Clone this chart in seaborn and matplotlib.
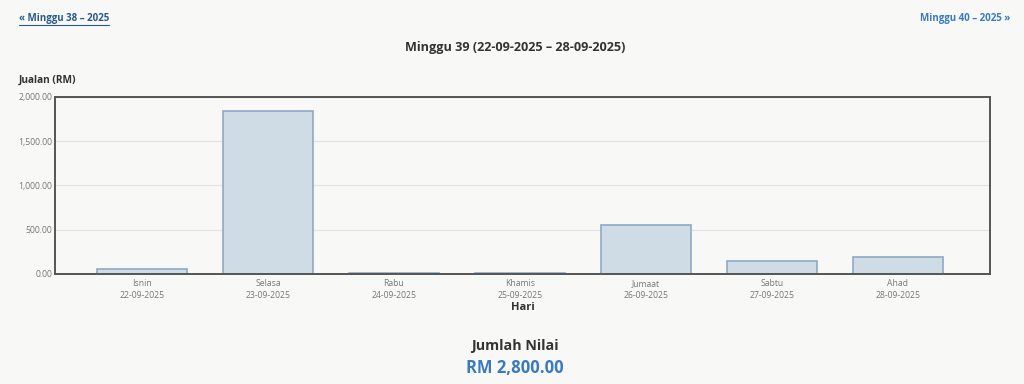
import matplotlib
matplotlib.use("Agg")
import matplotlib.pyplot as plt
from matplotlib.lines import Line2D
import seaborn as sns

hari = ["Isnin", "Selasa", "Rabu", "Khamis", "Jumaat", "Sabtu", "Ahad"]
tarikh = ["22-09-2025", "23-09-2025", "24-09-2025", "25-09-2025",
          "26-09-2025", "27-09-2025", "28-09-2025"]
jualan = [52, 1840, 10, 8, 550, 150, 190]
yticks = [0, 500, 1000, 1500, 2000]

sns.set_theme(style="white")
plt.rcParams['font.family'] = ['Open Sans', 'DejaVu Sans']

bg = "#f8f8f7"
fig = plt.figure(figsize=(10.24, 3.84), dpi=100, facecolor=bg)
ax = fig.add_axes([0.0537, 0.2865, 0.913, 0.4609])
ax.set_facecolor(bg)

sns.barplot(x=hari, y=jualan, ax=ax, color="#cfdbe5", edgecolor="#8eaac4",
            linewidth=1.2, width=0.71, saturation=1)

ax.set_ylim(0, 2000)
ax.set_xlim(-0.69, 6.73)
ax.set_yticks(yticks)
ax.set_yticklabels([f"{v:,.2f}" for v in yticks])
ax.yaxis.grid(True, color="#e2e2e2", linewidth=0.8)
ax.set_axisbelow(True)
ax.tick_params(axis="both", labelsize=6.2, colors="#777777", length=0, pad=2)

# label hari + tarikh, dua baris (ikut baseline supaya "Jumaat" sebaris)
ax.set_xticklabels([])
trans = ax.get_xaxis_transform()
for i, (h, t) in enumerate(zip(hari, tarikh)):
    ax.text(i, -0.068, h, transform=trans, ha="center", va="baseline", fontsize=6.2, color="#777777")
    ax.text(i, -0.136, t, transform=trans, ha="center", va="baseline", fontsize=6.2, color="#777777")

for s in ax.spines.values():
    s.set_color("#555555")
    s.set_linewidth(1.4)

ax.set_xlabel("Hari", fontsize=8, fontweight="bold", color="#333333", labelpad=18)
ax.set_ylabel("")

fig.text(0.0186, 0.79, "Jualan (RM)", fontsize=7.3, fontweight="bold", color="#333333",
         ha="left", va="center")
fig.text(0.503, 0.877, "Minggu 39 (22-09-2025 \u2013 28-09-2025)", fontsize=9.1,
         fontweight="bold", color="#333333", ha="center", va="center")

# pautan minggu
fig.text(0.0186, 0.953, "\u00ab Minggu 38 \u2013 2025", fontsize=7, fontweight="bold",
         color="#2a5a88", ha="left", va="center")
fig.lines.append(Line2D([0.0186, 0.1065], [0.934, 0.934], transform=fig.transFigure,
                        color="#2a5a88", linewidth=0.8))
fig.text(0.987, 0.953, "Minggu 40 \u2013 2025 \u00bb", fontsize=7, fontweight="bold",
         color="#3a7bbf", ha="right", va="center")

fig.text(0.5025, 0.099, "Jumlah Nilai", fontsize=10.3, fontweight="bold", color="#333333",
         ha="center", va="center")
fig.text(0.5025, 0.042, "RM 2,800.00", fontsize=12, fontweight="bold", color="#3a7bbf",
         ha="center", va="center")

fig.savefig("out.png", dpi=100, facecolor=bg)
